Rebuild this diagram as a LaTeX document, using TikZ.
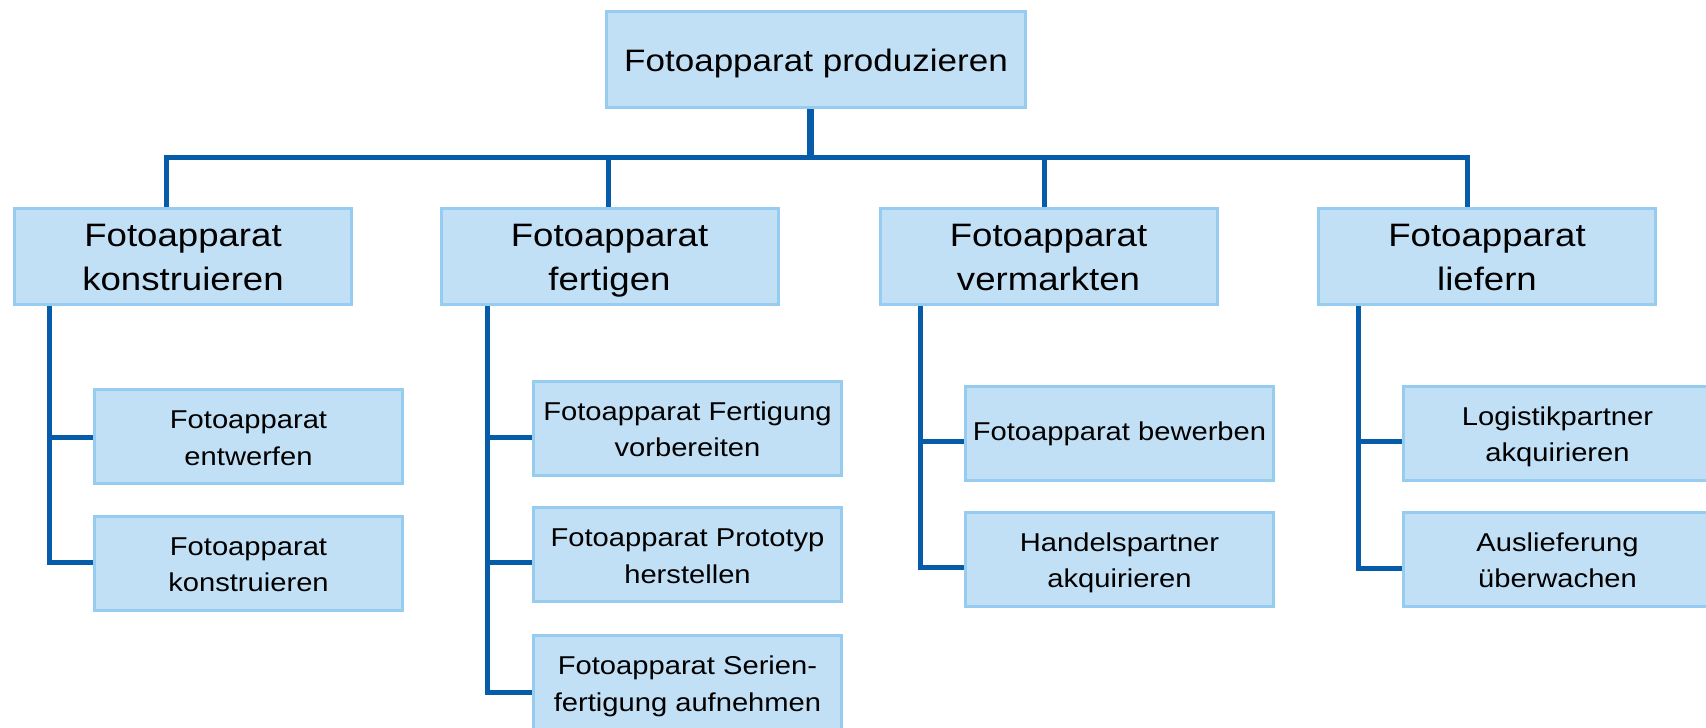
\documentclass[tikz,border=0pt]{standalone}
\usepackage{fontspec}
\setmainfont{Liberation Sans}[FakeStretch=1.13]
\definecolor{boxfill}{RGB}{194,224,245}
\definecolor{boxline}{RGB}{150,204,240}
\definecolor{connblue}{RGB}{6,92,168}
% struts: \rule[-depth]{0pt}{height+depth}
\newcommand{\stT}{\rule[-8pt]{0pt}{39pt}}
\newcommand{\stB}{\rule[-8pt]{0pt}{40pt}}
\newcommand{\stC}{\rule[-7pt]{0pt}{35pt}}
\newcommand{\stS}{\rule[-7pt]{0pt}{29pt}}
\begin{document}
\begin{tikzpicture}[x=1pt,y=-1pt,
  box/.style={draw=boxline, line width=3pt, fill=boxfill, inner sep=0pt, align=center, text=black},
  topbox/.style={box, minimum width=419pt, minimum height=96pt, font=\fontsize{31}{40}\selectfont},
  midbox/.style={box, minimum width=337pt, minimum height=96pt, font=\fontsize{32.4}{44}\selectfont},
  leafbox/.style={box, minimum width=308pt, minimum height=94pt, font=\fontsize{25.8}{36.5}\selectfont},
  conn/.style={draw=connblue, line width=5pt, line join=miter, line cap=butt}]
\useasboundingbox[fill=white] (0,0) rectangle (1706,728);

% nodes
\node[topbox] (top) at (816,59.5) {\stT Fotoapparat produzieren};
\node[midbox] (l1) at (183,256.5) {\stB Fotoapparat\\konstruieren\stB};
\node[midbox] (l2) at (609.5,256.5) {\stB Fotoapparat\\fertigen\stB};
\node[midbox] (l3) at (1048.5,256.5) {\stB Fotoapparat\\vermarkten\stB};
\node[midbox] (l4) at (1487,256.5) {\stB Fotoapparat\\liefern\stB};

\node[leafbox] (c11) at (248.5,436.5) {\stC Fotoapparat\\entwerfen\stC};
\node[leafbox] (c12) at (248.5,563) {\stC Fotoapparat\\konstruieren\stC};
\node[leafbox] (c21) at (687.5,428) {\stC Fotoapparat Fertigung\\vorbereiten\stC};
\node[leafbox] (c22) at (687.5,554.5) {\stC Fotoapparat Prototyp\\herstellen\stC};
\node[leafbox] (c23) at (687.5,682.5) {\stC Fotoapparat Serien-\\fertigung aufnehmen\stC};
\node[leafbox] (c31) at (1119.5,433) {\stS Fotoapparat bewerben};
\node[leafbox] (c32) at (1119.5,559) {\stC Handelspartner\\akquirieren\stC};
\node[leafbox] (c41) at (1557.5,433) {\stC Logistikpartner\\akquirieren\stC};
\node[leafbox] (c42) at (1557.5,559) {\stC Auslieferung\\überwachen\stC};

% connector coordinates
\coordinate (hub) at (810,157);
\coordinate (k1) at (166,157);
\coordinate (k2) at (608,157);
\coordinate (k3) at (1044,157);
\coordinate (k4) at (1467,157);
\coordinate (v1) at (49,0);
\coordinate (v2) at (487,0);
\coordinate (v3) at (920,0);
\coordinate (v4) at (1358,0);

% top level
\draw[conn, line width=7pt] (top.south -| hub) -- ([yshift=2.5pt]hub);
\draw[conn] (l1.north -| k1) -- (k1) -- (k4) -- (l4.north -| k4);
\draw[conn] (k2) -- (l2.north -| k2);
\draw[conn] (k3) -- (l3.north -| k3);

% column 1
\draw[conn] (l1.south -| v1) -- (v1 |- 0,562) -- (c12.west |- 0,562);
\draw[conn] (v1 |- 0,437) -- (c11.west |- 0,437);
% column 2
\draw[conn] (l2.south -| v2) -- (v2 |- 0,692) -- (c23.west |- 0,692);
\draw[conn] (v2 |- 0,437) -- (c21.west |- 0,437);
\draw[conn] (v2 |- 0,562) -- (c22.west |- 0,562);
% column 3
\draw[conn] (l3.south -| v3) -- (v3 |- 0,567) -- (c32.west |- 0,567);
\draw[conn] (v3 |- 0,441) -- (c31.west |- 0,441);
% column 4
\draw[conn] (l4.south -| v4) -- (v4 |- 0,568) -- (c42.west |- 0,568);
\draw[conn] (v4 |- 0,441) -- (c41.west |- 0,441);
\end{tikzpicture}
\end{document}
